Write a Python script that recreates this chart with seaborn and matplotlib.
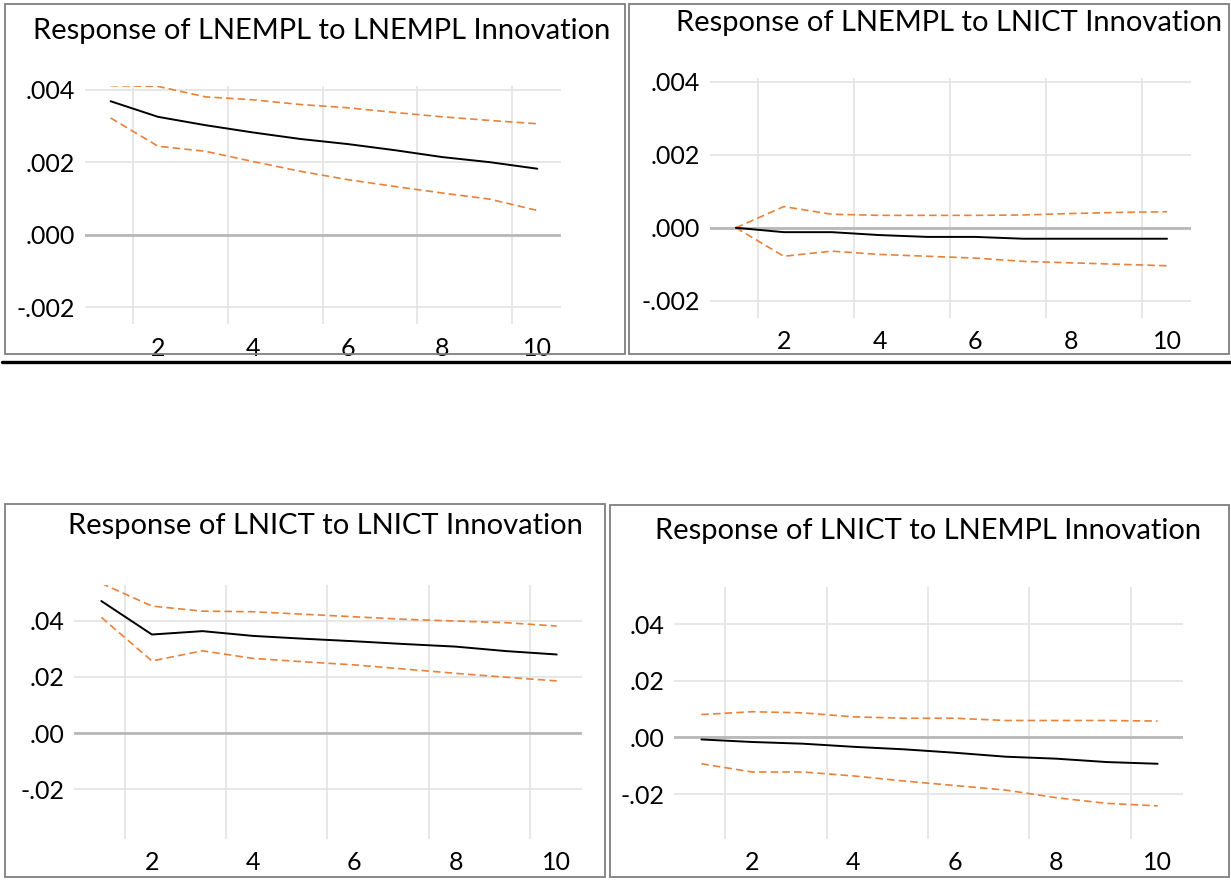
import numpy as np
import pandas as pd
import matplotlib
matplotlib.use("Agg")
import matplotlib.pyplot as plt
from matplotlib.patches import Rectangle
from matplotlib.lines import Line2D
import seaborn as sns

# ---- donnees ----
steps = [1, 2, 3, 4, 5, 6, 7, 8, 9, 10]

emp_emp = [0.00368, 0.00325, 0.00302, 0.00282, 0.00264, 0.00250, 0.00233, 0.00214, 0.00200, 0.00182]
emp_emp_hi = [0.00411, 0.00409, 0.00380, 0.00372, 0.00359, 0.00350, 0.00337, 0.00325, 0.00315, 0.00306]
emp_emp_lo = [0.00322, 0.00244, 0.00230, 0.00202, 0.00175, 0.00152, 0.00133, 0.00115, 0.00098, 0.00067]

emp_ict = [0.0, -0.00012, -0.00012, -0.00020, -0.00025, -0.00025, -0.00030, -0.00030, -0.00030, -0.00030]
emp_ict_hi = [0.0, 0.00058, 0.00037, 0.00034, 0.00034, 0.00034, 0.00035, 0.00039, 0.00042, 0.00044]
emp_ict_lo = [0.0, -0.00078, -0.00064, -0.00073, -0.00078, -0.00083, -0.00092, -0.00096, -0.00100, -0.00104]

ict_ict = [0.0470, 0.0351, 0.0363, 0.0346, 0.0336, 0.0327, 0.0317, 0.0308, 0.0292, 0.0280]
ict_ict_hi = [0.0533, 0.0452, 0.0434, 0.0432, 0.0423, 0.0414, 0.0405, 0.0399, 0.0393, 0.0381]
ict_ict_lo = [0.0412, 0.0257, 0.0293, 0.0266, 0.0254, 0.0243, 0.0228, 0.0213, 0.0199, 0.0186]

ict_emp = [-0.0007, -0.0016, -0.0022, -0.0033, -0.0042, -0.0054, -0.0068, -0.0075, -0.0087, -0.0093]
ict_emp_hi = [0.0081, 0.0091, 0.0087, 0.0073, 0.0068, 0.0068, 0.0060, 0.0060, 0.0060, 0.0058]
ict_emp_lo = [-0.0093, -0.0122, -0.0122, -0.0136, -0.0154, -0.0170, -0.0186, -0.0213, -0.0233, -0.0242]

titles = ["Response of LNEMPL to LNEMPL Innovation",
          "Response of LNEMPL to LNICT Innovation",
          "Response of LNICT to LNICT Innovation",
          "Response of LNICT to LNEMPL Innovation"]

yticks_emp = [-0.002, 0.000, 0.002, 0.004]
ylabels_emp = ["-.002", ".000", ".002", ".004"]
yticks_ict = [-0.02, 0.00, 0.02, 0.04]
ylabels_ict = ["-.02", ".00", ".02", ".04"]
xticks = [2, 4, 6, 8, 10]

# ---- mise en page ----
sns.set_style("white")
plt.rcParams['font.family'] = ['Lato', 'DejaVu Sans']

W, H = 1231, 881
fig = plt.figure(figsize=(W / 100, H / 100), dpi=100)


def fig_rect(x0, y0, x1, y1):
    return [x0 / W, 1 - y1 / H, (x1 - x0) / W, (y1 - y0) / H]


# cadres des panneaux
for (x0, y0, x1, y1) in [(5, 4, 625, 354), (629, 4, 1229, 354),
                         (5, 504, 605, 877), (610, 505, 1229, 877)]:
    fig.add_artist(Rectangle((x0 / W, 1 - y1 / H), (x1 - x0) / W, (y1 - y0) / H,
                             transform=fig.transFigure, fill=False,
                             edgecolor="#7f7f7f", lw=1.3))
fig.add_artist(Line2D([2 / W, 1], [1 - 361.5 / H] * 2, transform=fig.transFigure,
                      color="black", lw=2.4))

panels = [
    (fig_rect(85, 86, 561, 324), emp_emp, emp_emp_hi, emp_emp_lo, (-0.00246, 0.0041), yticks_emp, ylabels_emp, (322, 31)),
    (fig_rect(710, 78, 1191, 318), emp_ict, emp_ict_hi, emp_ict_lo, (-0.00247, 0.0041), yticks_emp, ylabels_emp, (949, 23)),
    (fig_rect(74, 585, 582, 839), ict_ict, ict_ict_hi, ict_ict_lo, (-0.0376, 0.0527), yticks_ict, ylabels_ict, (325, 526)),
    (fig_rect(674, 587, 1183, 839), ict_emp, ict_emp_hi, ict_emp_lo, (-0.0359, 0.0532), yticks_ict, ylabels_ict, (928, 531)),
]

orange = "#E8823A"
for i, (rect, mid, hi, lo, ylim, yt, yl, tpos) in enumerate(panels):
    ax = fig.add_axes(rect)
    df = pd.DataFrame({"periode": steps, "reponse": mid, "haut": hi, "bas": lo})
    ax.axhline(0, color="#b8b8b8", lw=2, zorder=1)
    sns.lineplot(data=df, x="periode", y="haut", ax=ax, color=orange, lw=1.2,
                 linestyle=(0, (4.5, 2.5)), zorder=3)
    sns.lineplot(data=df, x="periode", y="bas", ax=ax, color=orange, lw=1.2,
                 linestyle=(0, (4.5, 2.5)), zorder=3)
    sns.lineplot(data=df, x="periode", y="reponse", ax=ax, color="black", lw=1.4, zorder=4)

    ax.set_xlim(0.46, 10.5)
    ax.set_ylim(*ylim)
    ax.set_xticks(xticks)
    ax.set_xticks([1.47, 3.47, 5.47, 7.47, 9.47], minor=True)
    ax.set_yticks(yt)
    ax.set_yticklabels(yl)
    ax.grid(False)
    ax.grid(True, which="minor", axis="x", color="#e3e3e3", lw=1.2)
    ax.grid(True, which="major", axis="y", color="#e3e3e3", lw=1.2)
    ax.set_axisbelow(True)
    ax.tick_params(axis="both", which="both", length=0, labelsize=18, colors="black")
    ax.tick_params(axis="x", pad=9)
    ax.tick_params(axis="y", pad=7)
    ax.set_xlabel("")
    ax.set_ylabel("")
    for s in ax.spines.values():
        s.set_visible(False)
    ax.patch.set_alpha(0)

    fig.text(tpos[0] / W, 1 - tpos[1] / H, titles[i], ha="center", va="center",
             fontsize=21, color="black")

fig.savefig("out.png", dpi=100)
